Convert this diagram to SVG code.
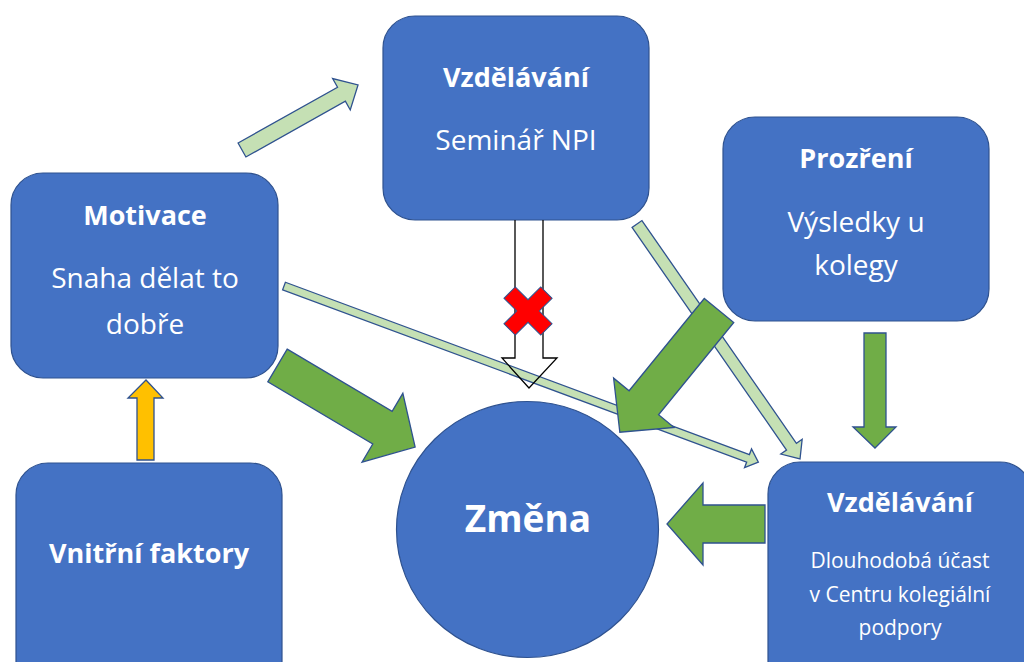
<svg xmlns="http://www.w3.org/2000/svg" width="1024" height="662" viewBox="0 0 1024 662">
<style>
.box{fill:#4472C4;stroke:#2F528F;stroke-width:1.2}
.t{font-family:"Open Sans","Noto Sans",sans-serif;fill:#FFFFFF;text-anchor:middle}
.b{font-weight:bold;font-size:27px}
.r{font-size:28px}
.s{font-size:21px}
.light{fill:#C5E0B4;stroke:#2F528F;stroke-width:1.3}
.green{fill:#70AD47;stroke:#2F528F;stroke-width:1.3}
.yellow{fill:#FFC000;stroke:#2F528F;stroke-width:1.3}
</style>
<rect width="1024" height="662" fill="#FFFFFF"/>

<g id="node-vzdelavani-npi">
<rect class="box" x="383" y="16" width="266" height="204" rx="32"/>
<text class="t b" x="516" y="87">Vzdělávání</text>
<text class="t r" x="516" y="150">Seminář NPI</text>
</g>

<g id="node-motivace">
<rect class="box" x="11" y="173" width="267" height="205" rx="32"/>
<text class="t b" x="145" y="225">Motivace</text>
<text class="t r" x="145" y="288">Snaha dělat to</text>
<text class="t r" x="145" y="334">dobře</text>
</g>

<g id="node-prozreni">
<rect class="box" x="723" y="117" width="266" height="204" rx="32"/>
<text class="t b" x="856" y="168">Prozření</text>
<text class="t r" x="856" y="232">Výsledky u</text>
<text class="t r" x="856" y="275">kolegy</text>
</g>

<g id="node-vnitrni">
<rect class="box" x="16" y="463" width="266" height="230" rx="32"/>
<text class="t b" x="149" y="563">Vnitřní faktory</text>
</g>

<g id="node-zmena">
<ellipse class="box" cx="527.5" cy="529.5" rx="131" ry="128"/>
<text class="t" x="528" y="532" font-weight="bold" font-size="37">Změna</text>
</g>

<g id="node-vzdelavani-ckp">
<rect class="box" x="768" y="462" width="264" height="230" rx="32"/>
<text class="t b" x="900" y="512">Vzdělávání</text>
<text class="t s" x="900" y="568">Dlouhodobá účast</text>
<text class="t s" x="900" y="602">v Centru kolegiální</text>
<text class="t s" x="900" y="635">podpory</text>
</g>

<g id="connectors">
<polygon class="light" transform="translate(242,150) rotate(-29.26)" points="0,-8 114,-8 114,-18 133,0 114,18 114,8 0,8"/>
<polygon class="light" transform="translate(637,224) rotate(55.25)" points="0,-6 271,-6 271,-13 286,0 271,13 271,6 0,6"/>
<polygon class="light" transform="translate(284,286) rotate(20.37)" points="0,-4 495,-4 495,-10 506,0 495,10 495,4 0,4"/>
<path d="M515,220 V358 H502 L529,388 L557,358 H543 V220" fill="none" stroke="#000000" stroke-width="1.3"/>
<polygon transform="translate(528,311) rotate(45)" points="8,-26 8,-8 26,-8 26,8 8,8 8,26 -8,26 -8,8 -26,8 -26,-8 -8,-8 -8,-26" fill="#FF0000" stroke="#2F528F" stroke-width="1"/>
<polygon class="green" transform="translate(277.5,365.5) rotate(30.66)" points="0,-19 122,-19 122,-40 160,0 122,40 122,19 0,19"/>
<polygon class="green" transform="translate(719,310.5) rotate(129.17)" points="0,-19 119,-19 119,-39 157,0 119,39 119,19 0,19"/>
<polygon class="green" points="765,505 703,505 703,483 667,524 703,565 703,543 765,543"/>
<polygon class="green" points="864,333 886,333 886,427 896,427 875,448 853,427 864,427"/>
<polygon class="yellow" points="137,460 154,460 154,398 163,398 146,380 128,398 137,398"/>
</g>
</svg>
